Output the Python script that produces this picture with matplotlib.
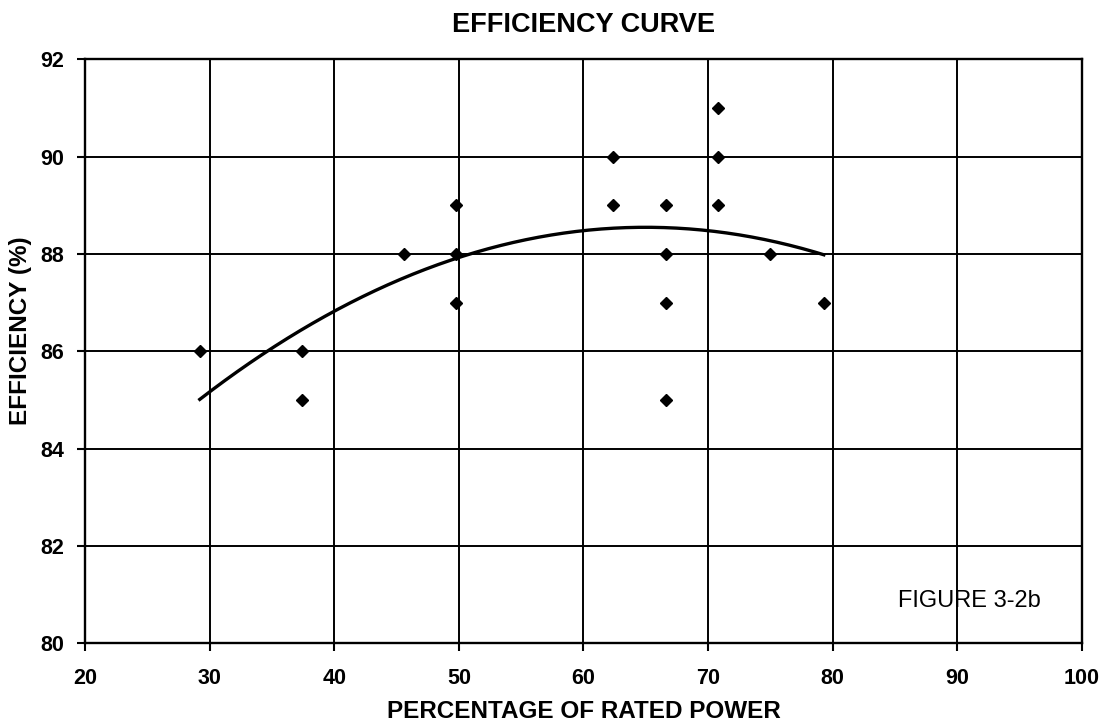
import numpy as np
import matplotlib
matplotlib.use("Agg")
import matplotlib.pyplot as plt

plt.rcParams["font.family"] = ["Liberation Sans", "DejaVu Sans"]

power_pct = [29.2, 37.4, 37.4, 45.6, 49.8, 49.8, 49.8, 62.4, 62.4,
             66.6, 66.6, 66.6, 66.6, 70.8, 70.8, 70.8, 75.0, 79.3]
efficiency = [86, 86, 85, 88, 89, 88, 87, 90, 89,
              89, 88, 87, 85, 91, 90, 89, 88, 87]

x_ticks = [20, 30, 40, 50, 60, 70, 80, 90, 100]
y_ticks = [80, 82, 84, 86, 88, 90, 92]

fig = plt.figure(figsize=(11.06, 7.25), dpi=100)
ax = fig.add_axes([0.077, 0.113, 0.901, 0.805])

ax.plot(power_pct, efficiency, linestyle="none", marker="D",
        markersize=6.5, color="black", zorder=3)

# second order polynomial trendline (like the spreadsheet)
coef = np.polyfit(power_pct, efficiency, 2)
xs = np.linspace(min(power_pct), max(power_pct), 200)
ax.plot(xs, np.polyval(coef, xs), color="black", linewidth=2.4, zorder=3)

ax.set_xlim(20, 100)
ax.set_ylim(80, 92)
ax.set_xticks(x_ticks)
ax.set_yticks(y_ticks)
ax.grid(True, color="black", linewidth=1.4)
ax.set_axisbelow(True)
for s in ax.spines.values():
    s.set_linewidth(1.7)
ax.tick_params(direction="out", length=6, width=1.5, labelsize=15.5)
for lab in ax.get_xticklabels() + ax.get_yticklabels():
    lab.set_fontweight("bold")
ax.tick_params(axis="x", pad=12)
ax.tick_params(axis="y", pad=9)

ax.set_title("EFFICIENCY CURVE", fontsize=19.5, fontweight="bold", pad=20)
ax.set_xlabel("PERCENTAGE OF RATED POWER", fontsize=17.5,
              fontweight="bold", labelpad=8)
ax.set_ylabel("EFFICIENCY (%)", fontsize=17.5, fontweight="bold")
ax.yaxis.set_label_coords(-0.053, 0.535)

ax.text(91, 80.87, "FIGURE 3-2b", fontsize=17, ha="center", va="center")

fig.savefig("out.png", dpi=100)
